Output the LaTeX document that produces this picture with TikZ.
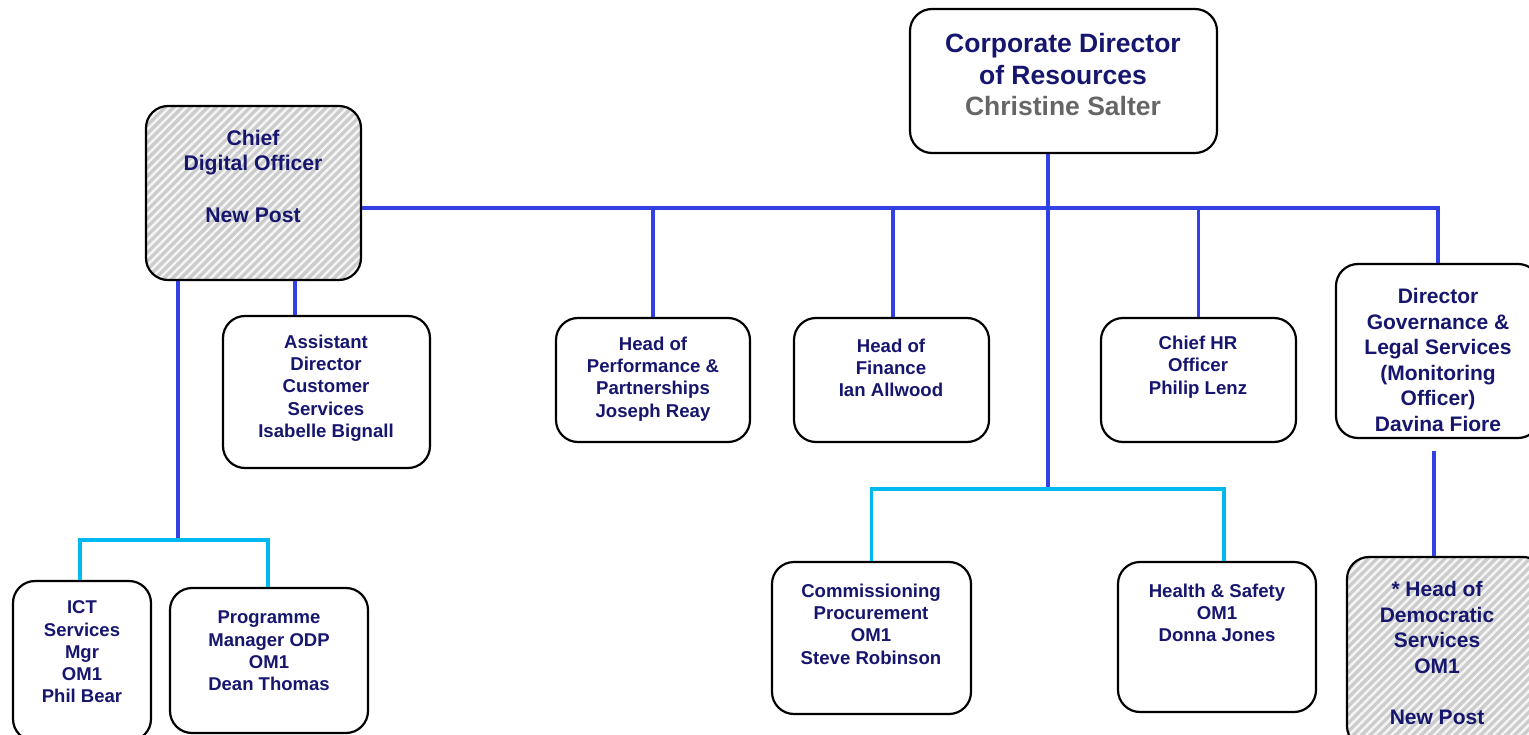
\documentclass[tikz,border=0pt]{standalone}
\usepackage{fontspec}
\setmainfont{Liberation Sans}
\usetikzlibrary{patterns.meta}
\definecolor{navy}{RGB}{22,22,110}
\definecolor{conn}{RGB}{51,64,230}
\definecolor{cyanl}{RGB}{0,184,240}
\definecolor{graytxt}{RGB}{102,102,102}
\tikzset{
  box/.style={draw=black, line width=2.2pt, rounded corners=22pt, fill=white, inner sep=0pt},
  hatched/.style={box, fill=none, preaction={fill=black!20}, preaction={pattern={Lines[angle=45,distance=6pt,line width=2.4pt]}, pattern color=white!80!black!20}},
  txt/.style={align=center, text=navy, font=\bfseries\fontsize{18.5}{22.3}\selectfont, inner sep=0pt},
  smtxt/.style={txt, font=\bfseries\fontsize{18.6}{22.3}\selectfont},
  bigtxt/.style={txt, font=\bfseries\fontsize{21}{25.6}\selectfont},
  conn/.style={draw=conn, line width=3.5pt},
  cyl/.style={draw=cyanl, line width=3.5pt},
}
\begin{document}
\begin{tikzpicture}[x=1pt,y=-1pt]
\path[use as bounding box, clip] (0,0) rectangle (1529,735);
\fill[white] (0,0) rectangle (1529,735);
% boxes
\node[box, minimum width=307, minimum height=144] (corp) at (1063.5,81) {};
\node[hatched, minimum width=215, minimum height=174] (cdo) at (253.5,193) {};
\node[box, minimum width=207, minimum height=152] (asst) at (326.5,392) {};
\node[box, minimum width=194, minimum height=124] (perf) at (653,380) {};
\node[box, minimum width=195, minimum height=124] (fin) at (891.5,380) {};
\node[box, minimum width=195, minimum height=124] (hr) at (1198.5,380) {};
\node[box, minimum width=204, minimum height=174] (gov) at (1438,351) {};
\node[hatched, minimum width=198, minimum height=191] (dem) at (1446,652.5) {};
\node[box, minimum width=138, minimum height=160] (ict) at (82,661) {};
\node[box, minimum width=198, minimum height=145] (prog) at (269,660.5) {};
\node[box, minimum width=199, minimum height=152] (comm) at (871.5,638) {};
\node[box, minimum width=198, minimum height=150] (hs) at (1217,637) {};
% texts
\node[txt, font=\bfseries\fontsize{26.5}{31.5}\selectfont] (tcorp) at (1063,75) {Corporate Director\\of Resources\\\textcolor{graytxt}{Christine Salter}};
\node[txt, font=\bfseries\fontsize{21.2}{25.7}\selectfont] (tcdo) at (253,176) {Chief\\Digital Officer\\\mbox{}\\New Post};
\node[smtxt] (tasst) at (326,388) {Assistant\\Director\\Customer\\Services\\Isabelle Bignall};
\node[smtxt] (tperf) at (653,379) {Head of\\Performance \&\\Partnerships\\Joseph Reay};
\node[smtxt] (tfin) at (891,368) {Head of\\Finance\\Ian Allwood};
\node[smtxt] (thr) at (1198,367) {Chief HR\\Officer\\Philip Lenz};
\node[bigtxt] (tgov) at (1438,360) {Director\\Governance \&\\Legal Services\\(Monitoring\\Officer)\\Davina Fiore};
\node[bigtxt] (tdem) at (1437,653) {* Head of\\Democratic\\Services\\OM1\\\mbox{}\\New Post};
\node[txt] (tict) at (82,652) {ICT\\Services\\Mgr\\OM1\\Phil Bear};
\node[txt] (tprog) at (269,651) {Programme\\Manager ODP\\OM1\\Dean Thomas};
\node[smtxt] (tcomm) at (871,624) {Commissioning\\Procurement\\OM1\\Steve Robinson};
\node[smtxt] (ths) at (1217,613) {Health \& Safety\\OM1\\Donna Jones};
% junction coordinates
\coordinate (bus) at (1048,208);
\coordinate (cjoin) at (1048,489);
\coordinate (ljoin) at (178,540);
% connectors
\draw[conn] (corp.south -| cjoin) -- (cjoin);
\draw[conn] (cdo.east |- bus) -- (bus -| gov.north) -- (gov.north);
\draw[conn] (perf.north) -- (perf.north |- bus);
\draw[conn] ([xshift=1.5]fin.north) -- ([xshift=1.5]fin.north |- bus);
\draw[conn] (hr.north) -- (hr.north |- bus);
\draw[conn] (cdo.south -| ljoin) -- (ljoin);
\draw[conn] ([xshift=-31.5]asst.north) -- ([xshift=-31.5]asst.north |- cdo.south);
\draw[conn] ([xshift=-12,yshift=-12]gov.south -| dem.north) -- ([xshift=-12]dem.north);
\draw[cyl] ([xshift=-2]ict.north) -- ([xshift=-2]ict.north |- ljoin) -- ([xshift=-1]prog.north |- ljoin) -- ([xshift=-1]prog.north);
\draw[cyl] (comm.north) -- (comm.north |- cjoin) -- ([xshift=7]hs.north |- cjoin) -- ([xshift=7]hs.north);
\end{tikzpicture}
\end{document}
